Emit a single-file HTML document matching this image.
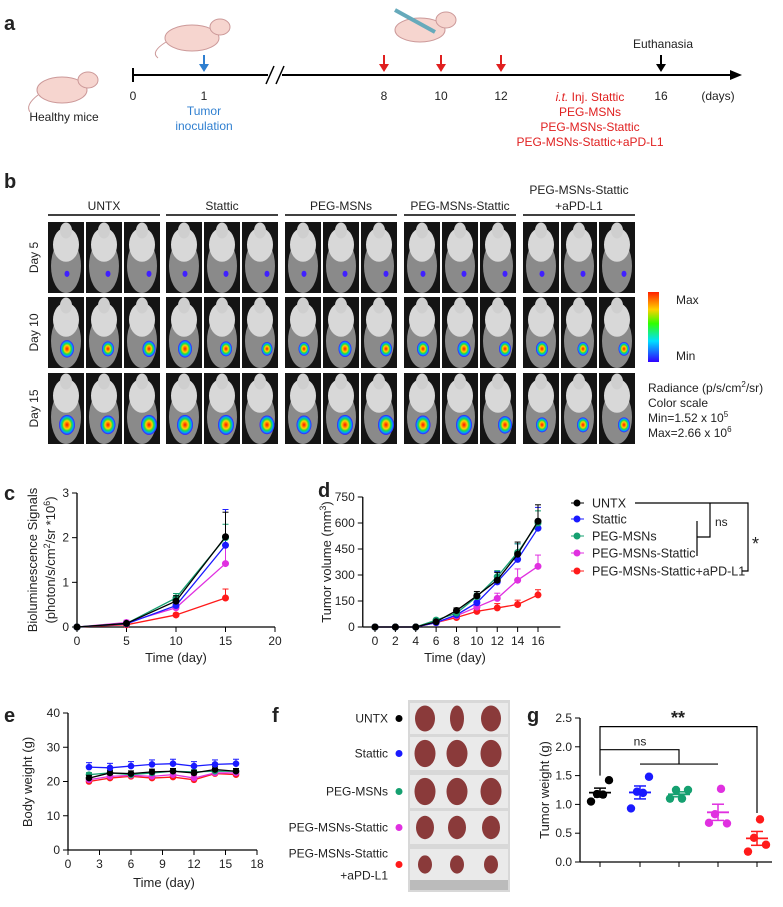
<!DOCTYPE html>
<html><head><meta charset="utf-8"><style>
body{margin:0;background:#fff}
svg text{font-family:"Liberation Sans",sans-serif;fill:#222}
</style></head><body>
<svg id="fig" width="783" height="902" viewBox="0 0 783 902" xmlns="http://www.w3.org/2000/svg">
<defs>
<linearGradient id="cbar" x1="0" y1="0" x2="0" y2="1">
<stop offset="0" stop-color="#ff2000"/><stop offset="0.25" stop-color="#ffd000"/><stop offset="0.45" stop-color="#30ff00"/><stop offset="0.7" stop-color="#00e0ff"/><stop offset="1" stop-color="#3000ff"/></linearGradient>
<radialGradient id="hot"><stop offset="0" stop-color="#ff1000"/><stop offset="0.4" stop-color="#ffd000"/><stop offset="0.6" stop-color="#20e040"/><stop offset="0.8" stop-color="#00a0ff"/><stop offset="1" stop-color="#4010ff"/></radialGradient>
</defs>
<!-- panel a -->
<g>
<text x="4" y="30" font-size="20" font-weight="bold">a</text>
<line x1="133" y1="75" x2="732" y2="75" stroke="#000" stroke-width="2"/>
<polygon points="742,75 730,70 730,80" fill="#000"/>
<line x1="133" y1="68" x2="133" y2="82" stroke="#000" stroke-width="2"/>
<rect x="268" y="64" width="14" height="22" fill="#fff"/>
<line x1="266" y1="84" x2="274" y2="66" stroke="#000" stroke-width="1.5"/>
<line x1="276" y1="84" x2="284" y2="66" stroke="#000" stroke-width="1.5"/>
<g font-size="12" text-anchor="middle">
<text x="133" y="100">0</text><text x="204" y="100">1</text><text x="384" y="100">8</text><text x="441" y="100">10</text><text x="501" y="100">12</text><text x="661" y="100">16</text><text x="718" y="100">(days)</text>
<text x="64" y="121">Healthy mice</text>
<text x="204" y="115" style="fill:#2f7fd0">Tumor</text><text x="204" y="130" style="fill:#2f7fd0">inoculation</text>
<text x="663" y="48">Euthanasia</text>
<text x="590" y="101" style="fill:#e02020"><tspan font-style="italic">i.t.</tspan> Inj. Stattic</text>
<text x="590" y="116" style="fill:#e02020">PEG-MSNs</text>
<text x="590" y="131" style="fill:#e02020">PEG-MSNs-Stattic</text>
<text x="590" y="146" style="fill:#e02020">PEG-MSNs-Stattic+aPD-L1</text>
</g>
<g stroke-width="2">
<line x1="204" y1="55" x2="204" y2="68" stroke="#2f7fd0"/><polygon points="204,72 199,64 209,64" fill="#2f7fd0"/>
<line x1="384" y1="55" x2="384" y2="68" stroke="#e02020"/><polygon points="384,72 379,64 389,64" fill="#e02020"/>
<line x1="441" y1="55" x2="441" y2="68" stroke="#e02020"/><polygon points="441,72 436,64 446,64" fill="#e02020"/>
<line x1="501" y1="55" x2="501" y2="68" stroke="#e02020"/><polygon points="501,72 496,64 506,64" fill="#e02020"/>
<line x1="661" y1="55" x2="661" y2="68" stroke="#000"/><polygon points="661,72 656,64 666,64" fill="#000"/>
</g>
<g fill="#f6d5cf" stroke="#c99" stroke-width="1"><ellipse cx="62" cy="90" rx="25" ry="13"/><ellipse cx="88" cy="80" rx="10" ry="8"/><path d="M38 95 Q25 105 30 112" fill="none"/></g>
<g fill="#f6d5cf" stroke="#c99" stroke-width="1"><ellipse cx="192" cy="38" rx="27" ry="13"/><ellipse cx="220" cy="27" rx="10" ry="8"/><path d="M166 42 Q150 52 158 58" fill="none"/></g>
<g fill="#f6d5cf" stroke="#c99" stroke-width="1"><ellipse cx="420" cy="30" rx="25" ry="12"/><ellipse cx="446" cy="20" rx="10" ry="8"/><line x1="395" y1="10" x2="435" y2="32" stroke="#6ab" stroke-width="4"/></g>
</g>
<!-- panel b -->
<g id="pb">
<text x="4" y="188" font-size="20" font-weight="bold">b</text>
<rect x="648" y="292" width="11" height="70" fill="url(#cbar)"/>
<g font-size="12"><text x="676" y="304">Max</text><text x="676" y="360">Min</text>
<text x="648" y="392">Radiance (p/s/cm<tspan font-size="8" dy="-5">2</tspan><tspan dy="5">/sr)</tspan></text>
<text x="648" y="407">Color scale</text>
<text x="648" y="422">Min=1.52 x 10<tspan font-size="8" dy="-5">5</tspan></text>
<text x="648" y="437">Max=2.66 x 10<tspan font-size="8" dy="-5">6</tspan></text></g>
</g>
<g id="pc">
<text x="4" y="500" font-size="20" font-weight="bold">c</text>
</g>
<g id="pd">
<text x="318" y="497" font-size="20" font-weight="bold">d</text>
</g>
<g id="pe">
<text x="4" y="722" font-size="20" font-weight="bold">e</text>
</g>
<g id="pf">
<text x="272" y="722" font-size="20" font-weight="bold">f</text>
</g>
<g id="pg">
<text x="527" y="722" font-size="20" font-weight="bold">g</text>
</g>
</svg>
<script>
const groups=["UNTX","Stattic","PEG-MSNs","PEG-MSNs-Stattic","PEG-MSNs-Stattic+aPD-L1"];
const colors=["#000000","#1a1aff","#15a070","#e030e0","#ff1a1a"];
// panel c data
const cDays=[0,5,10,15];
const cUNTX=[0,0.08,0.58,2.02];
const cStattic=[0,0.07,0.48,1.83];
const cPEG=[0,0.08,0.65,2.0];
const cPEGS=[0,0.1,0.43,1.42];
const cRed=[0,0.05,0.27,0.65];
const cErr=[[0,0.03,0.12,0.55],[0,0.03,0.1,0.8],[0,0.03,0.1,0.3],[0,0.05,0.08,0.4],[0,0.02,0.04,0.2]];
const cYTicks=[0,1,2,3];const cXTicks=[0,5,10,15,20];
// panel d data
const dDays=[0,2,4,6,8,10,12,14,16];
const dUNTX=[0,0,0,30,95,180,270,420,610];
const dStattic=[0,0,0,25,70,140,260,390,570];
const dPEG=[0,0,0,40,80,175,290,430,600];
const dPEGS=[0,0,0,25,65,115,165,270,350];
const dRed=[0,0,0,25,55,90,110,130,185];
const dErr=[[0,0,0,8,15,25,45,70,95],[0,0,0,8,15,25,60,90,120],[0,0,0,8,12,20,35,50,70],[0,0,0,8,10,20,30,65,65],[0,0,0,5,8,15,25,25,30]];
const dYTicks=[0,150,300,450,600,750];const dXTicks=[0,2,4,6,8,10,12,14,16];
// panel e data
const eDays=[2,4,6,8,10,12,14,16];
const eUNTX=[21,22.5,22.3,22.8,23,22.5,23.5,23];
const eStattic=[24.2,24,24.5,25,25.2,24.5,25,25.2];
const ePEG=[22,22.5,22,22.5,23,22.8,23,23];
const ePEGS=[20.5,21.5,21.8,21.5,22,21,22.5,22.5];
const eRed=[20,21,21.5,21,21.3,20.5,22.3,22];
const eYTicks=[0,10,20,30,40];const eXTicks=[0,3,6,9,12,15,18];
// panel g data
const gUNTX=[1.05,1.42,1.18,1.17];
const gStattic=[0.93,1.48,1.22,1.2];
const gPEG=[1.1,1.25,1.25,1.1];
const gPEGS=[0.68,0.67,0.83,1.27];
const gRed=[0.18,0.3,0.42,0.74];
const gYTicks=[0,0.5,1.0,1.5,2.0,2.5];

const NS="http://www.w3.org/2000/svg";
function mk(parent,tag,attrs,txt){const e=document.createElementNS(NS,tag);for(const k in attrs)e.setAttribute(k,attrs[k]);if(txt!==undefined)e.textContent=txt;parent.appendChild(e);return e;}
function scale(d0,d1,r0,r1){return v=>r0+(v-d0)/(d1-d0)*(r1-r0);}

function axes(g,X,Y,xt,yt,x0,x1,y0,fmt,name){
  const ax=mk(g,'g',{});
  
  
  mk(ax,'line',{x1:X(x0),y1:Y(y0),x2:X(x1),y2:Y(y0),stroke:'#000','stroke-width':1.3});
  mk(ax,'line',{x1:X(x0),y1:Y(y0),x2:X(x0),y2:Y(yt[yt.length-1]),stroke:'#000','stroke-width':1.3});
  yt.forEach(v=>{mk(ax,'line',{x1:X(x0)-5,x2:X(x0),y1:Y(v),y2:Y(v),stroke:'#000'});
    const t=mk(ax,'text',{x:X(x0)-8,y:Y(v)+4,'text-anchor':'end','font-size':12},fmt(v));
    
    });
  if(xt)xt.forEach(v=>{mk(ax,'line',{x1:X(v),x2:X(v),y1:Y(y0),y2:Y(y0)+5,stroke:'#000'});
    const t=mk(ax,'text',{x:X(v),y:Y(y0)+18,'text-anchor':'middle','font-size':12},v);
    
    });
}
function series(g,X,Y,xs,ys,err,col,r,name){
  const s=mk(g,'g',{});
  
  
  if(err)xs.forEach((x,i)=>{if(err[i]>0){mk(s,'line',{x1:X(x),x2:X(x),y1:Y(ys[i]),y2:Y(ys[i]+err[i]),stroke:col,'stroke-width':1});
    mk(s,'line',{x1:X(x)-3,x2:X(x)+3,y1:Y(ys[i]+err[i]),y2:Y(ys[i]+err[i]),stroke:col,'stroke-width':1});}});
  mk(s,'polyline',{points:xs.map((x,i)=>X(x)+','+Y(ys[i])).join(' '),fill:'none',stroke:col,'stroke-width':1.3});
  xs.forEach((x,i)=>{const c=mk(s,'circle',{cx:X(x),cy:Y(ys[i]),r:r,fill:col});
    
    });
}
function ytitle(g,x,y,lines,name){
  const t=mk(g,'text',{transform:`translate(${x},${y}) rotate(-90)`,'text-anchor':'middle','font-size':13});
  
  
  t.innerHTML=lines;
}
// panel b mice
(function(){
  const g=document.getElementById('pb');
  const gx=[48,166,285,404,523];
  const rows=[222,297,373], rh=71;
  const days=["Day 5","Day 10","Day 15"];
  const spot=[[0.25,0.3,0.3,0.4,0.2,0.2,0.25,0.25,0.25,0.3,0.2,0.25,0.3,0.2,0.25],
              [0.8,0.6,0.7,0.8,0.6,0.5,0.5,0.7,0.6,0.6,0.7,0.6,0.6,0.5,0.5],
              [1,0.9,1,1,1,0.9,0.9,1,1,0.9,1,0.8,0.6,0.6,0.6]];
  groups.forEach((n,gi)=>{
    const lbl=gi<4?[n]:["PEG-MSNs-Stattic","+aPD-L1"];
    lbl.forEach((l,li)=>{const t=mk(g,'text',{x:gx[gi]+56,y:210-(lbl.length-1-li)*16,'text-anchor':'middle','font-size':12},l);
      
      });
    mk(g,'line',{x1:gx[gi],x2:gx[gi]+112,y1:215,y2:215,stroke:'#000','stroke-width':1.5});
    rows.forEach((ry,ri)=>{for(let k=0;k<3;k++){
      const x=gx[gi]+k*38;
      const im=mk(g,'g',{});
      
      
      mk(im,'rect',{x:x,y:ry,width:36,height:rh,fill:'#141414'});
      mk(im,'ellipse',{cx:x+18,cy:ry+rh*0.62,rx:15,ry:rh*0.38,fill:'#8a8a8a'});
      mk(im,'ellipse',{cx:x+18,cy:ry+rh*0.32,rx:13,ry:rh*0.24,fill:'#d8d8d8'});
      mk(im,'ellipse',{cx:x+18,cy:ry+rh*0.12,rx:6,ry:8,fill:'#cfcfcf'});
      const s=spot[ri][gi*3+k];
      const rr=ri==0?2.5:3+s*5;
      mk(im,'ellipse',{cx:x+18+(k-1)*3+4,cy:ry+rh*0.73,rx:rr,ry:rr*1.25,fill:ri==0?'#4020ff':'url(#hot)'});
    }});
  });
  rows.forEach((ry,ri)=>{const t=mk(g,'text',{transform:`translate(38,${ry+rh/2}) rotate(-90)`,'text-anchor':'middle','font-size':12},days[ri]);
    
    });
})();
// panel c
(function(){
  const g=document.getElementById('pc');
  const X=scale(0,20,77,275),Y=scale(0,3,627,493);
  axes(g,X,Y,cXTicks,cYTicks,0,20,0,v=>v,'c');
  const ys=[cUNTX,cStattic,cPEG,cPEGS,cRed];
  [4,3,1,2,0].forEach(i=>series(g,X,Y,cDays,ys[i],cErr[i],colors[i],3.5,'c-series-'+i));
  const t=mk(g,'text',{x:176,y:662,'text-anchor':'middle','font-size':13},'Time (day)');
  
  
  ytitle(g,37,560,'Bioluminescence Signals','c-y-axis-title');
  ytitle(g,55,560,'(photon/s/cm<tspan font-size="9" dy="-5">2</tspan><tspan dy="5">/sr *10</tspan><tspan font-size="9" dy="-5">6</tspan><tspan dy="5">)</tspan>','c-y-axis-title-2');
})();
// panel d
(function(){
  const g=document.getElementById('pd');
  const X=scale(0,16,375,538),Y=scale(0,750,627,497);
  axes(g,X,Y,dXTicks,dYTicks,-1.2,18.2,0,v=>v,'d');
  const ys=[dUNTX,dStattic,dPEG,dPEGS,dRed];
  [4,3,1,2,0].forEach(i=>series(g,X,Y,dDays,ys[i],dErr[i],colors[i],3.5,'d-series-'+i));
  const t=mk(g,'text',{x:455,y:662,'text-anchor':'middle','font-size':13},'Time (day)');
  
  
  ytitle(g,331,562,'Tumor volume (mm<tspan font-size="9" dy="-5">3</tspan><tspan dy="5">)</tspan>','d-y-axis-title');
  const ly=[503,519,536,553,571];
  groups.forEach((n,i)=>{const le=mk(g,'g',{});
    
    
    mk(le,'line',{x1:571,x2:584,y1:ly[i],y2:ly[i],stroke:colors[i]});
    mk(le,'circle',{cx:577,cy:ly[i],r:3.5,fill:colors[i]});
    mk(le,'text',{x:592,y:ly[i]+4.5,'font-size':12.5},n);});
  const br='M635 503 H748 V571 H742 M710 503 V537 H697 M697 521 V556';
  mk(g,'path',{d:br,fill:'none',stroke:'#000','stroke-width':1.2});
  mk(g,'text',{x:715,y:526,'font-size':12},'ns');
  mk(g,'text',{x:752,y:550,'font-size':18},'*');
})();
// panel e
(function(){
  const g=document.getElementById('pe');
  const X=scale(0,18,68,257),Y=scale(0,40,850,713);
  axes(g,X,Y,eXTicks,eYTicks,0,18,0,v=>v,'e');
  const ys=[eUNTX,eStattic,ePEG,ePEGS,eRed];
  const er=[0.8,1.3,0.6,0.8,0.8];
  [4,3,2,0,1].forEach(i=>series(g,X,Y,eDays,ys[i],eDays.map(()=>er[i]),colors[i],3.3,'e-series-'+i));
  const t=mk(g,'text',{x:164,y:887,'text-anchor':'middle','font-size':13},'Time (day)');
  
  
  ytitle(g,32,782,'Body weight (g)','e-y-axis-title');
})();
// panel f
(function(){
  const g=document.getElementById('pf');
  const rows=[[703,734],[737,770],[775,808],[811,844],[849,880]];
  mk(g,'rect',{x:408,y:700,width:102,height:192,fill:'#d8d8d8'});
  rows.forEach((r,i)=>{
    const rw=mk(g,'g',{});
    
    
    mk(rw,'rect',{x:410,y:r[0],width:98,height:r[1]-r[0],fill:'#eaeaea'});
    const sz=[1,1.05,1.05,0.9,0.7][i];
    [425,457,491].forEach((cx,k)=>mk(rw,'ellipse',{cx:cx,cy:(r[0]+r[1])/2,rx:(k==1&&i==0?7:10)*sz,ry:13*sz,fill:'#8a3a3a'}));
    const lines=i<4?[groups[i]]:["PEG-MSNs-Stattic","+aPD-L1"];
    const cy=(r[0]+r[1])/2;
    lines.forEach((l,li)=>mk(rw,'text',{x:388,y:cy+4+(li-(lines.length-1)/2)*22,'text-anchor':'end','font-size':12},l));
    mk(rw,'circle',{cx:399,cy:cy,r:3.5,fill:colors[i]});
  });
  mk(g,'rect',{x:410,y:880,width:98,height:10,fill:'#bbb'});
})();
// panel g
(function(){
  const g=document.getElementById('pg');
  const xs=[600,640,679,718,757];
  const Y=scale(0,2.5,862,718);
  const ax=mk(g,'g',{});
  
  
  mk(ax,'line',{x1:580,x2:772,y1:862,y2:862,stroke:'#000','stroke-width':1.3});
  mk(ax,'line',{x1:580,x2:580,y1:862,y2:Y(2.5),stroke:'#000','stroke-width':1.3});
  gYTicks.forEach(v=>{mk(ax,'line',{x1:575,x2:580,y1:Y(v),y2:Y(v),stroke:'#000'});mk(ax,'text',{x:572,y:Y(v)+4,'text-anchor':'end','font-size':12},v.toFixed(1));});
  xs.forEach(x=>mk(ax,'line',{x1:x,x2:x,y1:862,y2:867,stroke:'#000'}));
  const ys=[gUNTX,gStattic,gPEG,gPEGS,gRed];
  const off=[-9,9,-3,3];
  ys.forEach((arr,i)=>{
    const s=mk(g,'g',{});
    
    
    const m=arr.reduce((a,b)=>a+b,0)/arr.length;
    const sd=Math.sqrt(arr.reduce((a,b)=>a+(b-m)*(b-m),0)/(arr.length-1))/2;
    arr.forEach((v,k)=>{const c=mk(s,'circle',{cx:xs[i]+off[k],cy:Y(v),r:4.2,fill:colors[i]});
      
      });
    mk(s,'line',{x1:xs[i]-11,x2:xs[i]+11,y1:Y(m),y2:Y(m),stroke:colors[i],'stroke-width':1.8});
    mk(s,'line',{x1:xs[i],x2:xs[i],y1:Y(m-sd),y2:Y(m+sd),stroke:colors[i],'stroke-width':1.5});
    [m-sd,m+sd].forEach(v=>mk(s,'line',{x1:xs[i]-6,x2:xs[i]+6,y1:Y(v),y2:Y(v),stroke:colors[i],'stroke-width':1.5}));
  });
  mk(g,'path',{d:`M600 ${Y(1.5)} V${Y(2.35)} H757 V${Y(0.85)}`,fill:'none',stroke:'#000','stroke-width':1.2});
  mk(g,'path',{d:`M600 ${Y(1.95)} H679 V${Y(1.7)} M640 ${Y(1.7)} H718`,fill:'none',stroke:'#000','stroke-width':1.2});
  mk(g,'text',{x:678,y:724,'text-anchor':'middle','font-size':18,'font-weight':'bold'},'**');
  mk(g,'text',{x:640,y:Y(2.02),'text-anchor':'middle','font-size':12},'ns');
  ytitle(g,549,790,'Tumor weight (g)','g-y-axis-title');
})();
</script>
</body></html>
